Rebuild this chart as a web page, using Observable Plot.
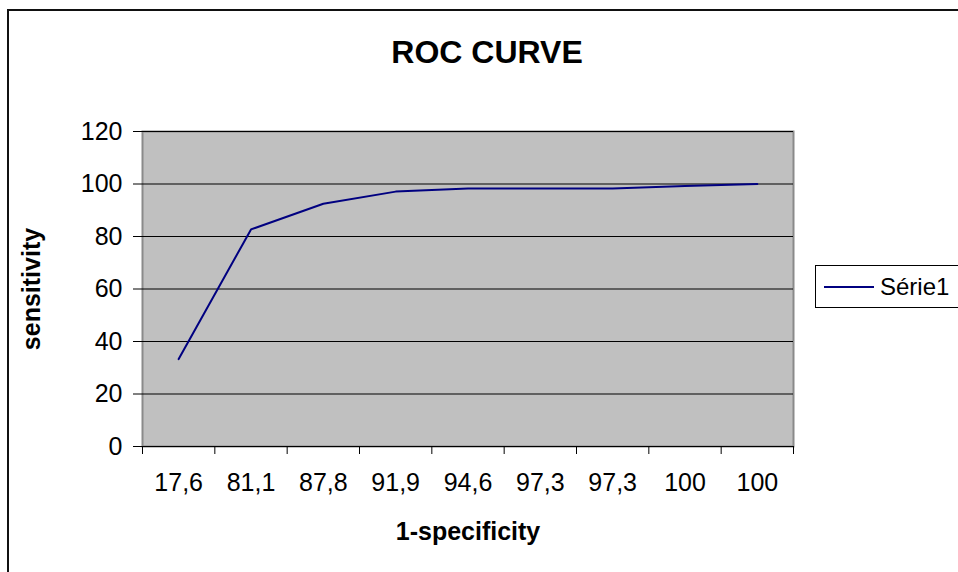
<!DOCTYPE html>
<html>
<head>
<meta charset="utf-8">
<script src="https://cdn.jsdelivr.net/npm/d3@7"></script>
<script src="https://cdn.jsdelivr.net/npm/@observablehq/plot@0.6"></script>
<style>
  html, body { margin: 0; padding: 0; background: #fff; overflow: hidden; }
  #wrap { position: relative; width: 958px; height: 572px; overflow: hidden; font-family: "Liberation Sans", Arial, sans-serif; }
  #outer { position: absolute; left: 7px; top: 9px; width: 1000px; height: 620px; border: 2px solid #111; box-sizing: border-box; }
  #title { position: absolute; left: 487px; top: 34px; transform: translateX(-50%); font-weight: bold; font-size: 32px; line-height: 36px; white-space: nowrap; color: #000; }
  #chart { position: absolute; left: 0; top: 0; }
  #legend { position: absolute; left: 815px; top: 265px; width: 170px; height: 43px; border: 1px solid #000; background: #fff; box-sizing: border-box; display: flex; align-items: center; font-size: 24px; color: #000; }
  #legend .sw { display: inline-block; width: 50px; height: 2px; background: #000080; margin-left: 8px; }
  #legend .lb { margin-left: 6px; }
</style>
</head>
<body>
<div id="wrap">
  <div id="outer"></div>
  <div id="chart"></div>
  <div id="title"></div>
  <div id="legend"></div>
</div>
<script>
const chartTitle = "ROC CURVE";
const xLabel = "1-specificity";
const yLabel = "sensitivity";
const seriesName = "Série1";
const categories = ["17,6", "81,1", "87,8", "91,9", "94,6", "97,3", "97,3", "100", "100"];
const sensitivity = [33.3, 82.7, 92.5, 97.1, 98.3, 98.3, 98.3, 99.2, 100];
const yTicks = [0, 20, 40, 60, 80, 100, 120];

const data = categories.map((c, i) => ({ pos: i + 0.5, label: c, value: sensitivity[i] }));
const boundaries = d3.range(0, categories.length + 1);

const chart = Plot.plot({
  width: 958,
  height: 572,
  marginLeft: 142,
  marginRight: 165,
  marginTop: 131,
  marginBottom: 126,
  style: { fontFamily: "'Liberation Sans', Arial, sans-serif", fontSize: "25px", color: "#000", background: "transparent", overflow: "visible" },
  x: { type: "linear", domain: [0, categories.length] },
  y: { domain: [0, 120] },
  marks: [
    Plot.frame({ fill: "#c0c0c0", stroke: "#8a8a8a", strokeWidth: 2 }),
    Plot.ruleY(yTicks, { stroke: "#000", strokeWidth: 1 }),
    Plot.axisY(yTicks, { tickSize: 9, tickPadding: 11, line: true, stroke: "#000", label: null, tickFormat: d => String(d) }),
    Plot.axisX(boundaries, { tickSize: 8, tickFormat: () => "", label: null, stroke: "#000" }),
    Plot.axisX(data.map(d => d.pos), { tickSize: 0, tickPadding: 27, tickFormat: p => categories[Math.floor(p)], label: null }),
    Plot.ruleY([0], { stroke: "#000", strokeWidth: 1 }),
    Plot.lineY(data, { x: "pos", y: "value", stroke: "#000080", strokeWidth: 2 }),
    Plot.text([yLabel], { frameAnchor: "left", textAnchor: "middle", rotate: -90, dx: -111, fontWeight: "bold", fill: "#000" }),
    Plot.text([xLabel], { frameAnchor: "bottom", dy: 93, fontWeight: "bold", fill: "#000" })
  ]
});
document.getElementById("chart").appendChild(chart);
document.getElementById("title").textContent = chartTitle;
document.getElementById("legend").innerHTML = '<span class="sw"></span><span class="lb"></span>';
document.querySelector("#legend .lb").textContent = seriesName;
</script>
</body>
</html>
